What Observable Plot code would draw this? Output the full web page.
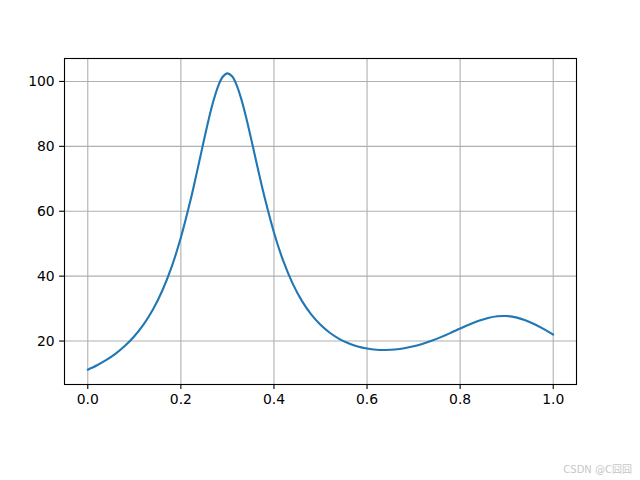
<!DOCTYPE html>
<html>
<head>
<meta charset="utf-8">
<script src="https://cdn.jsdelivr.net/npm/d3@7"></script>
<script src="https://cdn.jsdelivr.net/npm/@observablehq/plot@0.6"></script>
<style>
  html, body { margin: 0; padding: 0; background: #fff; }
  #wrap { position: relative; width: 640px; height: 480px; }
  #wm { position: absolute; right: 8px; top: 461px; font-family: "DejaVu Sans", "Noto Sans CJK SC", sans-serif; font-size: 10px; color: #c8c8c8; }
</style>
</head>
<body>
<div id="wrap"><div id="chart"></div><div id="wm">CSDN @C囧囧</div></div>
<script>
const xs = [0,0.02,0.04,0.06,0.08,0.10,0.12,0.14,0.16,0.18,0.20,0.22,0.23,0.24,0.25,0.26,0.27,0.28,0.29,0.30,0.31,0.32,0.33,0.34,0.35,0.36,0.37,0.38,0.40,0.42,0.44,0.46,0.48,0.50,0.52,0.54,0.56,0.58,0.60,0.62,0.64,0.66,0.68,0.70,0.72,0.74,0.76,0.78,0.80,0.82,0.84,0.86,0.88,0.90,0.92,0.94,0.96,0.98,1.00];
const ys = [11.18,12.54,14.17,16.13,18.53,21.47,25.13,29.71,35.49,42.77,51.89,62.97,69.16,75.63,82.16,88.43,94.03,98.51,101.44,102.5,101.59,98.81,94.48,89.04,82.92,76.55,70.23,64.20,53.45,44.68,37.76,32.37,28.21,25.0,22.55,20.69,19.31,18.33,17.69,17.34,17.26,17.41,17.79,18.38,19.18,20.16,21.29,22.54,23.85,25.12,26.25,27.13,27.64,27.70,27.29,26.42,25.18,23.67,22.0];
const xTicks = [0.0,0.2,0.4,0.6,0.8,1.0];
const yTicks = [20,40,60,80,100];

const data = xs.map((x, i) => ({x, y: ys[i]}));

const chart = Plot.plot({
  width: 640,
  height: 480,
  marginLeft: 64,
  marginRight: 64,
  marginTop: 58,
  marginBottom: 96,
  style: {fontFamily: "DejaVu Sans, sans-serif", fontSize: "13.9px", color: "#000", background: "#fff"},
  x: {domain: [-0.05, 1.05]},
  y: {domain: [6.61, 107.07]},
  marks: [
    Plot.gridX(xTicks, {stroke: "#b0b0b0", strokeOpacity: 1, strokeWidth: 1.1}),
    Plot.gridY(yTicks, {stroke: "#b0b0b0", strokeOpacity: 1, strokeWidth: 1.1}),
    Plot.line(data, {x: "x", y: "y", stroke: "#1f77b4", strokeWidth: 2.1, curve: "catmull-rom"}),
    Plot.frame({stroke: "#000", strokeWidth: 1.1}),
    Plot.axisX(xTicks, {tickSize: 4.9, tickPadding: 4.9, tickFormat: d => d.toFixed(1), label: null, strokeWidth: 1.1, fontSize: 13.9}),
    Plot.axisY(yTicks, {tickSize: 4.9, tickPadding: 4.9, tickFormat: d => String(d), label: null, strokeWidth: 1.1, fontSize: 13.9})
  ]
});
document.getElementById("chart").appendChild(chart);
</script>
</body>
</html>
